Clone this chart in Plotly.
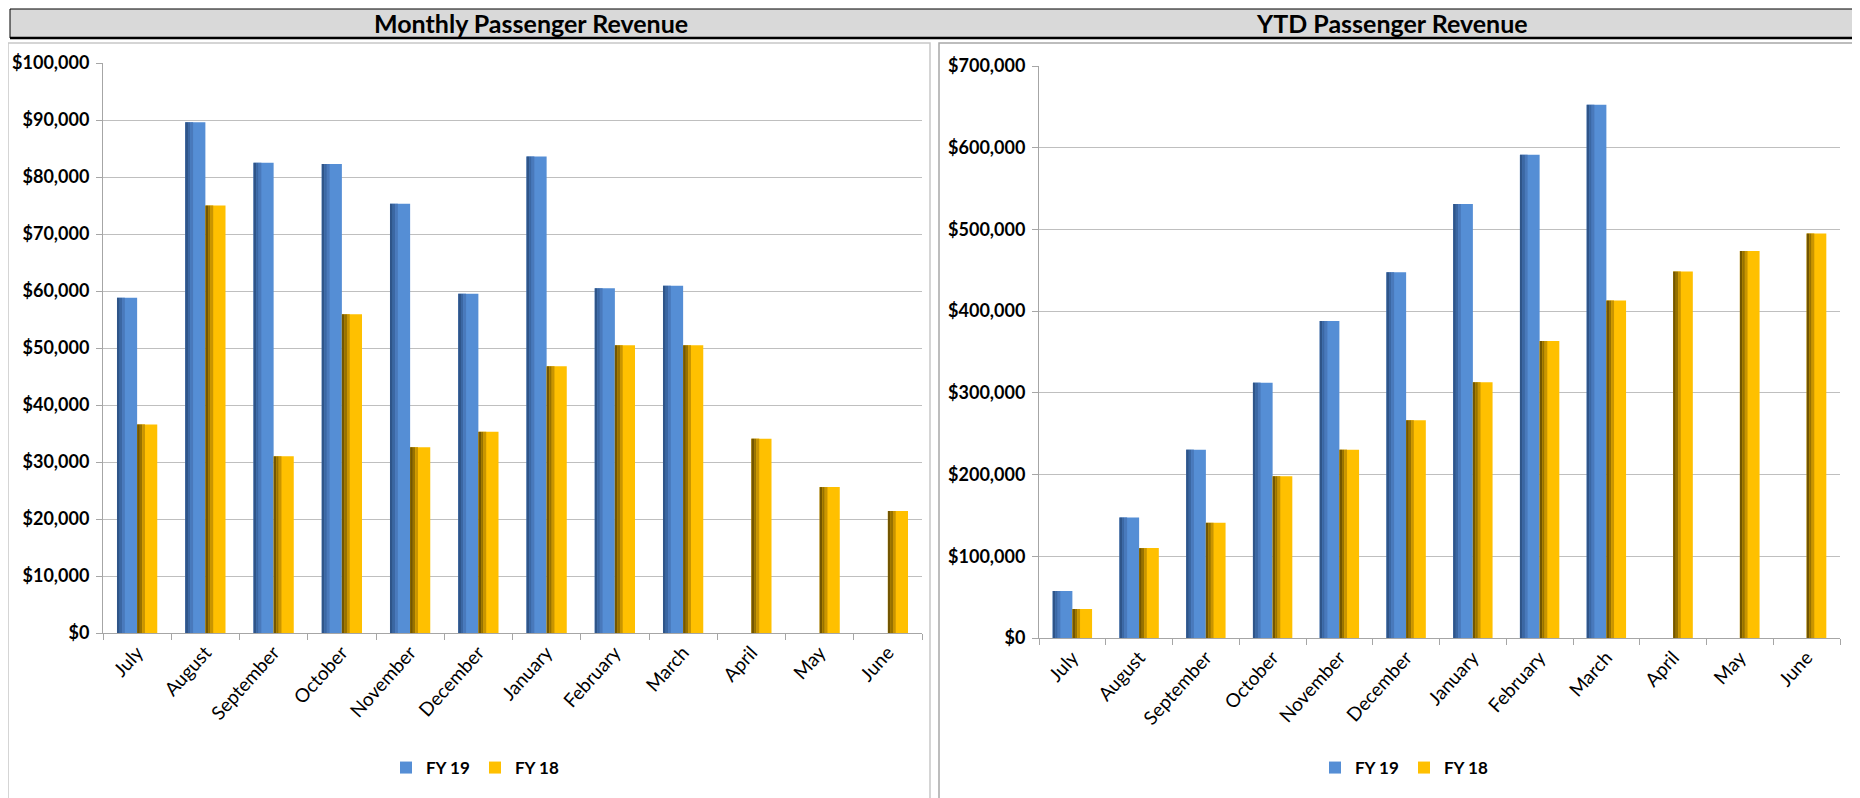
import plotly.graph_objects as go

months = ["July", "August", "September", "October", "November", "December",
          "January", "February", "March", "April", "May", "June"]

monthly_fy19 = [58800, 89600, 82500, 82300, 75300, 59500, 83600, 60500, 60900, None, None, None]
monthly_fy18 = [36600, 75000, 31000, 55900, 32600, 35300, 46800, 50500, 50500, 34100, 25600, 21400]

ytd_fy19 = [57500, 147500, 230500, 312500, 388000, 447500, 531000, 591500, 652500, None, None, None]
ytd_fy18 = [35500, 110000, 141000, 198000, 230500, 266500, 313000, 363500, 413000, 448500, 473500, 495000]

series_names = ["FY 19", "FY 18"]

# page body has an 8px margin: size the figure so it fits the 1860x798 window
OFF = 8
FW, FH = 1860 - OFF, 798 - OFF
FONT = "Lato"


def px(x):
    """screen x (px) -> paper fraction"""
    return (x - OFF) / FW


def py(y):
    """screen y (px from top) -> paper fraction"""
    return (798 - y) / FH


BW = 0.295  # bar width in category units
BLUE = ["#558ED5", "#2f5589", "#3b67a3", "#4979bb"]
GOLD = ["#FFC000", "#735600", "#977200", "#c99500"]

fig = go.Figure()


def add_series(vals, name, colors, offset, xa, ya, legend):
    fig.add_trace(go.Bar(x=months, y=vals, name=name, offset=offset, width=BW,
                         marker=dict(color=colors[0], line=dict(width=0)),
                         xaxis=xa, yaxis=ya, legend=legend, showlegend=True))
    strips = [(0.0, 0.04, colors[1]), (0.04, 0.035, colors[2]), (0.075, 0.04, colors[3])]
    for s_off, s_w, c in strips:
        fig.add_trace(go.Bar(x=months, y=vals, offset=offset + s_off, width=s_w,
                             marker=dict(color=c, line=dict(width=0)),
                             xaxis=xa, yaxis=ya, showlegend=False, hoverinfo="skip"))


add_series(monthly_fy19, series_names[0], BLUE, -BW, "x", "y", "legend")
add_series(monthly_fy18, series_names[1], GOLD, 0.0, "x", "y", "legend")
add_series(ytd_fy19, series_names[0], BLUE, -BW, "x2", "y2", "legend2")
add_series(ytd_fy18, series_names[1], GOLD, 0.0, "x2", "y2", "legend2")

GRID = "#bfbfbf"
AX = "#a6a6a6"

xcommon = dict(type="category", showgrid=False, showline=True, linecolor=AX, linewidth=1,
               ticks="outside", tickson="boundaries", ticklen=6, tickcolor=AX,
               tickangle=-48, tickfont=dict(family=FONT, size=19, color="#000"),
               range=[-0.5, 11.5], fixedrange=True, automargin=False)
ycommon = dict(showgrid=True, gridcolor=GRID, gridwidth=1, showline=True, linecolor=AX,
               linewidth=1, ticks="outside", ticklen=6, tickcolor=AX, tickprefix="$",
               tickformat=",d", tickfont=dict(family=FONT, size=18, color="#000", weight="bold"),
               ticklabelstandoff=3,
               zeroline=False, fixedrange=True, automargin=False)

legfont = dict(family=FONT, size=17, color="#000", weight="bold")

fig.update_layout(
    width=FW, height=FH, autosize=False,
    margin=dict(l=0, r=0, t=0, b=0, pad=0, autoexpand=False),
    paper_bgcolor="white", plot_bgcolor="white",
    barmode="overlay",
    xaxis=dict(xcommon, domain=[px(103), px(922)], anchor="y"),
    yaxis=dict(ycommon, domain=[py(633), py(63)], range=[0, 100000], dtick=10000, anchor="x"),
    xaxis2=dict(xcommon, domain=[px(1039), px(1840)], anchor="y2"),
    yaxis2=dict(ycommon, domain=[py(638), py(66)], range=[0, 700000], dtick=100000, anchor="x2"),
    legend=dict(orientation="h", x=px(386), y=py(768), xanchor="left", yanchor="middle",
                font=legfont, itemwidth=30, entrywidth=44, bgcolor="rgba(0,0,0,0)"),
    legend2=dict(orientation="h", x=px(1315), y=py(768), xanchor="left", yanchor="middle",
                 font=legfont, itemwidth=30, entrywidth=44, bgcolor="rgba(0,0,0,0)"),
    shapes=[
        # panel boxes
        dict(type="rect", xref="paper", yref="paper", x0=px(8), x1=px(930), y0=-0.02, y1=py(43),
             line=dict(color="#c8c8c8", width=1.5), layer="below"),
        dict(type="rect", xref="paper", yref="paper", x0=px(939), x1=1.01, y0=-0.02, y1=py(43),
             line=dict(color="#a8a8a8", width=1.5), layer="below"),
        # title bar
        dict(type="rect", xref="paper", yref="paper", x0=px(10), x1=1.01, y0=py(38), y1=py(9),
             fillcolor="#d9d9d9", line=dict(color="#000", width=1), layer="below"),
        dict(type="line", xref="paper", yref="paper", x0=px(10), x1=1.0, y0=py(38), y1=py(38),
             line=dict(color="#000", width=2.5)),
    ],
    annotations=[
        dict(text="Monthly Passenger Revenue", xref="paper", yref="paper", x=px(531), y=py(23.5),
             xanchor="center", yanchor="middle", showarrow=False,
             font=dict(family=FONT, size=25, color="#000", weight="bold")),
        dict(text="YTD Passenger Revenue", xref="paper", yref="paper", x=px(1392), y=py(23.5),
             xanchor="center", yanchor="middle", showarrow=False,
             font=dict(family=FONT, size=25, color="#000", weight="bold")),
    ],
)

fig.write_html("out.html")
